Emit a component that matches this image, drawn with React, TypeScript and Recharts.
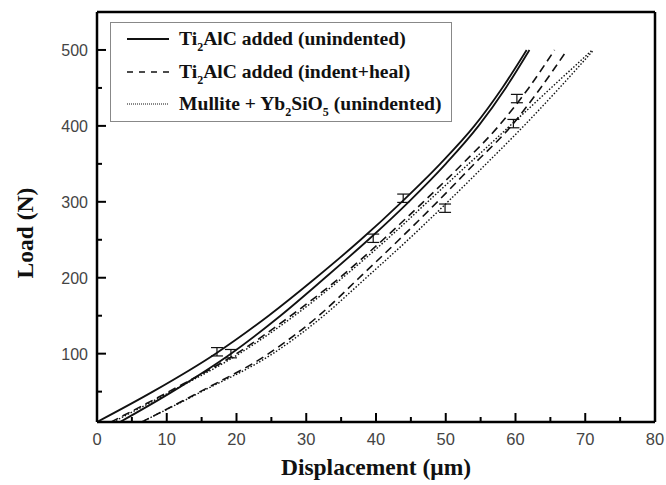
import React from 'react';
import {
  ComposedChart,
  Line,
  Scatter,
  ErrorBar,
  XAxis,
  YAxis,
  Legend,
} from 'recharts';

// load levels (N) shared by every curve
const LOADS = [10, 50, 100, 150, 200, 250, 300, 350, 400, 450, 500];

// displacement (um) read at each load level
const tiUnindentedA = [0, 8, 17, 24.6, 31.4, 37.8, 43.7, 49.2, 54.1, 58.1, 61.6];
const tiUnindentedB = [3.3, 10.8, 19.2, 26.3, 32.7, 38.9, 44.7, 50, 54.7, 58.6, 62];
const tiHealedA = [2, 10.3, 20, 27.8, 34.8, 41, 46.8, 52.4, 57.6, 61.9, 65.6];
const tiHealedB = [6.4, 14.8, 24.6, 31.8, 37.6, 43.3, 48.8, 54.1, 59.4, 63.6, 67.4];
const mulliteA = [2.3, 10.6, 20.4, 28.3, 35.2, 41.5, 47.4, 53.3, 59.2, 65.1, 71];
const mulliteB = [6.4, 15, 25.2, 32.5, 38.6, 44.6, 50.3, 55.8, 61.2, 66.3, 71.2];

// error bar markers
const errX = [17.2, 19.2, 39.6, 43.9, 60.2, 59.7, 49.9];
const errY = [102.5, 100, 252, 304.7, 436, 403, 291.6];
const errSize = [5.5, 5.5, 5.5, 5.5, 5.5, 5.5, 5.5];

const X_TICKS = [0, 5, 10, 15, 20, 25, 30, 35, 40, 45, 50, 55, 60, 65, 70, 75, 80];
const Y_TICKS = [50, 100, 150, 200, 250, 300, 350, 400, 450, 500];

const SOLID = '';
const DASHED = '8 5';
const DOTTED = '1.5 1.8';

const toPoints = (xs: number[]) => xs.map((x, i) => ({ x, y: LOADS[i] }));

const curves = [
  { key: 'tiA', values: tiUnindentedA, dash: SOLID, width: 1.8 },
  { key: 'tiB', values: tiUnindentedB, dash: SOLID, width: 1.8 },
  { key: 'healA', values: tiHealedA, dash: DASHED, width: 1.6 },
  { key: 'healB', values: tiHealedB, dash: DASHED, width: 1.6 },
  { key: 'mulA', values: mulliteA, dash: DOTTED, width: 1.4 },
  { key: 'mulB', values: mulliteB, dash: DOTTED, width: 1.4 },
];

const legendItems = [
  { dash: SOLID, width: 1.8, label: ['Ti', '2', 'AlC added (unindented)'] },
  { dash: '6 6', width: 1.6, label: ['Ti', '2', 'AlC added (indent+heal)'] },
  { dash: '1 1', width: 1.2, label: ['Mullite + Yb', '2', 'SiO', '5', ' (unindented)'] },
];

const errPoints = errX.map((x, i) => ({ x, y: errY[i], err: errSize[i] }));

const tickFont = '"Liberation Sans", Arial, sans-serif';
const titleFont = '"Liberation Serif", "Times New Roman", serif';

const XTick = (props: any) => {
  const { x, y, payload } = props;
  const major = payload.value % 10 === 0;
  return (
    <g>
      <line x1={x} x2={x} y1={y} y2={y - (major ? 9 : 5)} stroke="#000" strokeWidth={2} />
      {major && (
        <text x={x} y={y + 23} textAnchor="middle" fontSize={16.5} fill="#444" fontFamily={tickFont}>
          {payload.value}
        </text>
      )}
    </g>
  );
};

const YTick = (props: any) => {
  const { x, y, payload } = props;
  const major = payload.value % 100 === 0;
  return (
    <g>
      <line x1={x} x2={x + (major ? 9 : 5)} y1={y} y2={y} stroke="#000" strokeWidth={2} />
      {major && (
        <text x={x - 9} y={y + 6} textAnchor="end" fontSize={16} fill="#444" fontFamily={tickFont}>
          {payload.value}
        </text>
      )}
    </g>
  );
};

const renderLabel = (parts: string[]) =>
  parts.map((p, i) =>
    i % 2 === 1 ? (
      <sub key={i} style={{ fontSize: 12, verticalAlign: -6, lineHeight: 0 }}>
        {p}
      </sub>
    ) : (
      <span key={i}>{p}</span>
    )
  );

const LegendBox = () => (
  <div
    style={{
      width: 342,
      height: 100,
      boxSizing: 'border-box',
      border: '1.5px solid #888',
      background: '#fff',
    }}
  >
    {legendItems.map((item, i) => (
      <div
        key={i}
        style={{
          display: 'flex',
          alignItems: 'center',
          height: 32.5,
          fontFamily: titleFont,
          fontWeight: 'bold',
          fontSize: 19.6,
          color: '#111',
          whiteSpace: 'nowrap',
        }}
      >
        <svg width={45} height={10} style={{ marginLeft: 15, marginRight: 8 }}>
          <line
            x1={1}
            x2={43}
            y1={5}
            y2={5}
            stroke="#111"
            strokeWidth={item.width}
            strokeDasharray={item.dash || undefined}
          />
        </svg>
        <span>{renderLabel(item.label)}</span>
      </div>
    ))}
  </div>
);

export default function App() {
  return (
    <div style={{ position: 'absolute', left: 0, top: 0, width: 666, height: 485, background: '#fff' }}>
      <ComposedChart width={666} height={485} margin={{ top: 11, right: 10, bottom: 62, left: 96 }}>
        <XAxis
          type="number"
          dataKey="x"
          domain={[0, 80]}
          ticks={X_TICKS}
          interval={0}
          tickSize={0}
          tickMargin={0}
          tickLine={false}
          tick={<XTick />}
          axisLine={{ stroke: '#000', strokeWidth: 2.5 }}
          height={1}
          allowDataOverflow
        />
        <XAxis
          xAxisId="top"
          orientation="top"
          type="number"
          domain={[0, 80]}
          tick={false}
          tickLine={false}
          axisLine={{ stroke: '#000', strokeWidth: 2.5 }}
          height={1}
        />
        <YAxis
          type="number"
          dataKey="y"
          domain={[10, 550]}
          ticks={Y_TICKS}
          interval={0}
          tickSize={0}
          tickMargin={0}
          tickLine={false}
          tick={<YTick />}
          axisLine={{ stroke: '#000', strokeWidth: 2.5 }}
          width={1}
          allowDataOverflow
        />
        <YAxis
          yAxisId="right"
          orientation="right"
          type="number"
          domain={[10, 550]}
          tick={false}
          tickLine={false}
          axisLine={{ stroke: '#000', strokeWidth: 2.5 }}
          width={1}
        />
        {curves.map((c) => (
          <Line
            key={c.key}
            data={toPoints(c.values)}
            dataKey="y"
            type="monotone"
            stroke="#111"
            strokeWidth={c.width}
            strokeDasharray={c.dash || undefined}
            dot={false}
            activeDot={false}
            isAnimationActive={false}
          />
        ))}
        <Scatter data={errPoints} dataKey="y" shape={() => <g />} isAnimationActive={false}>
          <ErrorBar dataKey="err" direction="y" width={6} stroke="#111" strokeWidth={1.2} isAnimationActive={false} />
        </Scatter>
        <Legend
          layout="vertical"
          align="center"
          verticalAlign="middle"
          wrapperStyle={{ left: 110, top: 22, width: 342, height: 100 }}
          content={() => <LegendBox />}
        />
      </ComposedChart>
      <div
        style={{
          position: 'absolute',
          left: 376,
          top: 467,
          transform: 'translate(-50%, -50%)',
          fontFamily: titleFont,
          fontWeight: 'bold',
          fontSize: 23.5,
          whiteSpace: 'nowrap',
          color: '#111',
        }}
      >
        Displacement (μm)
      </div>
      <div
        style={{
          position: 'absolute',
          left: 25,
          top: 233,
          transform: 'translate(-50%, -50%) rotate(-90deg)',
          fontFamily: titleFont,
          fontWeight: 'bold',
          fontSize: 23.5,
          whiteSpace: 'nowrap',
          color: '#111',
        }}
      >
        Load (N)
      </div>
    </div>
  );
}
